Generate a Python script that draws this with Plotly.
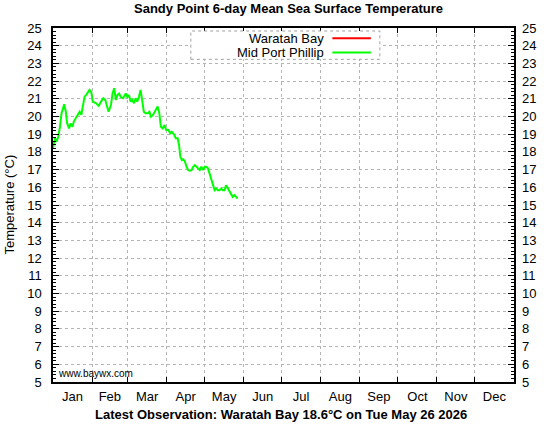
"""
Sandy Point 6-day mean sea surface temperature - plotly recreation
"""

import pandas as pd
import plotly.graph_objects as go

# Data (days since 1 Jan 2026, temperature in degC)
mpp_days = [
    0, 1.56, 2.89, 4.14, 5.47, 6.8, 8.05, 8.83, 10.16, 11.18, 12.74, 13.83,
    15.4, 16.41, 17.98, 19.77, 21.1, 22.43, 23.68, 25.0, 26.34, 27.59, 28.92,
    30.25, 31.5, 34.15, 36.19, 38.06, 39.86, 41.42, 42.44, 44.0, 45.88, 47.13,
    48.46, 49.79, 51.04, 52.37, 53.7, 55.49, 57.6, 58.85, 60.18, 61.51, 62.76,
    64.09, 65.42, 66.67, 68.0, 69.33, 70.58, 71.91, 73.24, 75.03, 76.36, 77.61,
    79.18, 81.05, 82.85, 84.18, 85.43, 86.76, 88.32, 89.65, 91.45, 92.78,
    94.03, 96.14, 97.15, 98.72, 99.81, 100.83, 102.08, 103.17, 104.5, 105.75,
    107.08, 108.41, 109.66, 110.99, 112.32, 113.57, 114.9, 116.22, 117.47,
    118.8, 120.13, 121.38, 122.71, 124.04, 125.29, 126.62, 127.95, 129.2,
    130.53, 131.86, 133.11, 134.44, 135.77, 137.02, 138.35, 139.68, 140.93,
    142.26, 143.59, 144.84, 146.17,
]
mpp_temps = [
    18.2, 18.77, 18.58, 18.86, 19.4, 20.2, 20.47, 20.7, 20.27, 19.62, 19.33,
    19.6, 19.42, 19.7, 19.9, 20.1, 20.27, 20.1, 20.65, 21.12, 21.22, 21.4,
    21.5, 21.4, 20.84, 20.75, 20.6, 20.84, 21.03, 20.93, 20.65, 20.27, 20.65,
    21.3, 21.6, 20.93, 21.22, 21.3, 21.1, 21.03, 21.3, 21.1, 21.2, 20.84,
    20.93, 20.75, 21.03, 20.84, 21.1, 21.5, 20.93, 20.27, 20.18, 20.18, 20.27,
    19.99, 20.09, 20.37, 20.56, 20.18, 19.42, 19.33, 19.52, 19.24, 19.24,
    19.05, 19.14, 18.95, 18.77, 18.77, 18.39, 17.73, 17.54, 17.58, 17.44,
    17.16, 16.97, 16.94, 16.97, 17.16, 17.25, 17.16, 17.07, 16.97, 17.16,
    16.97, 17.16, 17.16, 17.07, 16.78, 16.41, 16.12, 15.84, 15.93, 15.84,
    15.84, 15.93, 15.84, 15.84, 16.12, 15.93, 15.74, 15.56, 15.46, 15.56,
    15.46, 15.37,
]
# no Waratah Bay readings in the plotted period
wb_days = []
wb_temps = []

month_names = ['Jan', 'Feb', 'Mar', 'Apr', 'May', 'Jun',
               'Jul', 'Aug', 'Sep', 'Oct', 'Nov', 'Dec']
y_ticks = list(range(5, 26))

TITLE = 'Sandy Point 6-day Mean Sea Surface Temperature'
FOOTER = 'Latest Observation: Waratah Bay 18.6\u00b0C on Tue May 26 2026'

FONT = 'Liberation Sans, Arial, sans-serif'
GRID = '#b4b4b4'

start = pd.Timestamp('2026-01-01')
mpp_x = start + pd.to_timedelta(mpp_days, unit='D')
wb_x = start + pd.to_timedelta(wb_days, unit='D')

month_starts = pd.date_range('2026-01-01', '2027-01-01', freq='MS')
month_mids = [a + (b - a) / 2 for a, b in zip(month_starts[:-1], month_starts[1:])]

fig = go.Figure()

fig.add_trace(go.Scatter(
    x=wb_x, y=wb_temps, mode='lines', name='Waratah Bay',
    line=dict(color='#ff0000', width=2), showlegend=False
))
fig.add_trace(go.Scatter(
    x=mpp_x, y=mpp_temps, mode='lines', name='Mid Port Phillip',
    line=dict(color='#00ff00', width=2), showlegend=False
))
# invisible trace so the right axis shows
fig.add_trace(go.Scatter(
    x=[month_starts[0]], y=[5], mode='markers', yaxis='y2',
    marker=dict(opacity=0), showlegend=False, hoverinfo='skip'
))

# hand-made legend like gnuplot (text then sample)
fig.add_shape(type='rect', xref='paper', yref='paper',
              x0=0.299, x1=0.709, y0=0.9115, y1=0.9915,
              fillcolor='white', line=dict(color='#a0a0a0', width=1, dash='dot'),
              layer='above')
legend_rows = [('Waratah Bay', '#ff0000', 0.971), ('Mid Port Phillip', '#00ff00', 0.931)]
for label, col, yy in legend_rows:
    fig.add_shape(type='line', xref='paper', yref='paper',
                  x0=0.606, x1=0.6895, y0=yy, y1=yy,
                  line=dict(color=col, width=2), layer='above')
    fig.add_annotation(text=label, xref='paper', yref='paper', x=0.593, y=yy,
                       xanchor='right', yanchor='middle', showarrow=False,
                       font=dict(size=13, color='black', family=FONT))

fig.add_annotation(text='www.baywx.com', xref='paper', yref='paper',
                   x=0.006, y=0.023, xanchor='left', yanchor='middle',
                   showarrow=False, font=dict(size=10, color='black', family=FONT))
fig.add_annotation(text='Temperature (\u00b0C)', xref='paper', yref='paper',
                   x=-0.0964, y=0.5, textangle=-90, xanchor='center', yanchor='middle',
                   showarrow=False, font=dict(size=13, color='black', family=FONT))
fig.add_annotation(text='<b>' + FOOTER + '</b>', xref='paper', yref='paper',
                   x=0.4946, y=-0.0913, xanchor='center', yanchor='middle',
                   showarrow=False, font=dict(size=13, color='black', family=FONT))

fig.update_layout(
    width=548, height=424,
    margin=dict(l=53, r=28, t=28, b=42),
    paper_bgcolor='white', plot_bgcolor='white',
    font=dict(family=FONT, size=13, color='black'),
    title=dict(text='<b>' + TITLE + '</b>', x=0.5265, xanchor='center',
               y=0.981, yanchor='middle', font=dict(size=13, family=FONT)),
    xaxis=dict(
        type='date', range=[month_starts[0], month_starts[-1]],
        tickmode='array', tickvals=month_mids, ticktext=month_names,
        ticks='', showgrid=False, ticklabelstandoff=2,
        showline=True, linecolor='black', linewidth=1.5, mirror='ticks',
        minor=dict(tickmode='array', tickvals=list(month_starts[1:-1]),
                   showgrid=True, gridcolor=GRID, griddash='dot', gridwidth=1,
                   ticks='inside', ticklen=5, tickcolor='black'),
        zeroline=False,
    ),
    yaxis=dict(
        range=[5, 25], tickmode='array', tickvals=y_ticks,
        ticks='inside', ticklen=6, tickcolor='black', ticklabelstandoff=7,
        showgrid=True, gridcolor=GRID, griddash='dot', gridwidth=1,
        showline=True, linecolor='black', linewidth=1.5, mirror='ticks',
        minor=dict(dtick=0.2, ticks='inside', ticklen=3, tickcolor='black'),
        zeroline=False,
    ),
    yaxis2=dict(
        range=[5, 25], tickmode='array', tickvals=y_ticks,
        overlaying='y', side='right', ticks='inside', ticklen=6,
        tickcolor='black', ticklabelstandoff=7, showgrid=False, zeroline=False,
        minor=dict(dtick=0.2, ticks='inside', ticklen=3, tickcolor='black'),
    ),
    hovermode='closest',
)

# the page has an 8px body margin by default; drop it so the figure sits at 0,0
fig.write_html("out.html", config={'displayModeBar': False},
               post_script="document.body.style.margin = '0';")
print("wrote out.html")
